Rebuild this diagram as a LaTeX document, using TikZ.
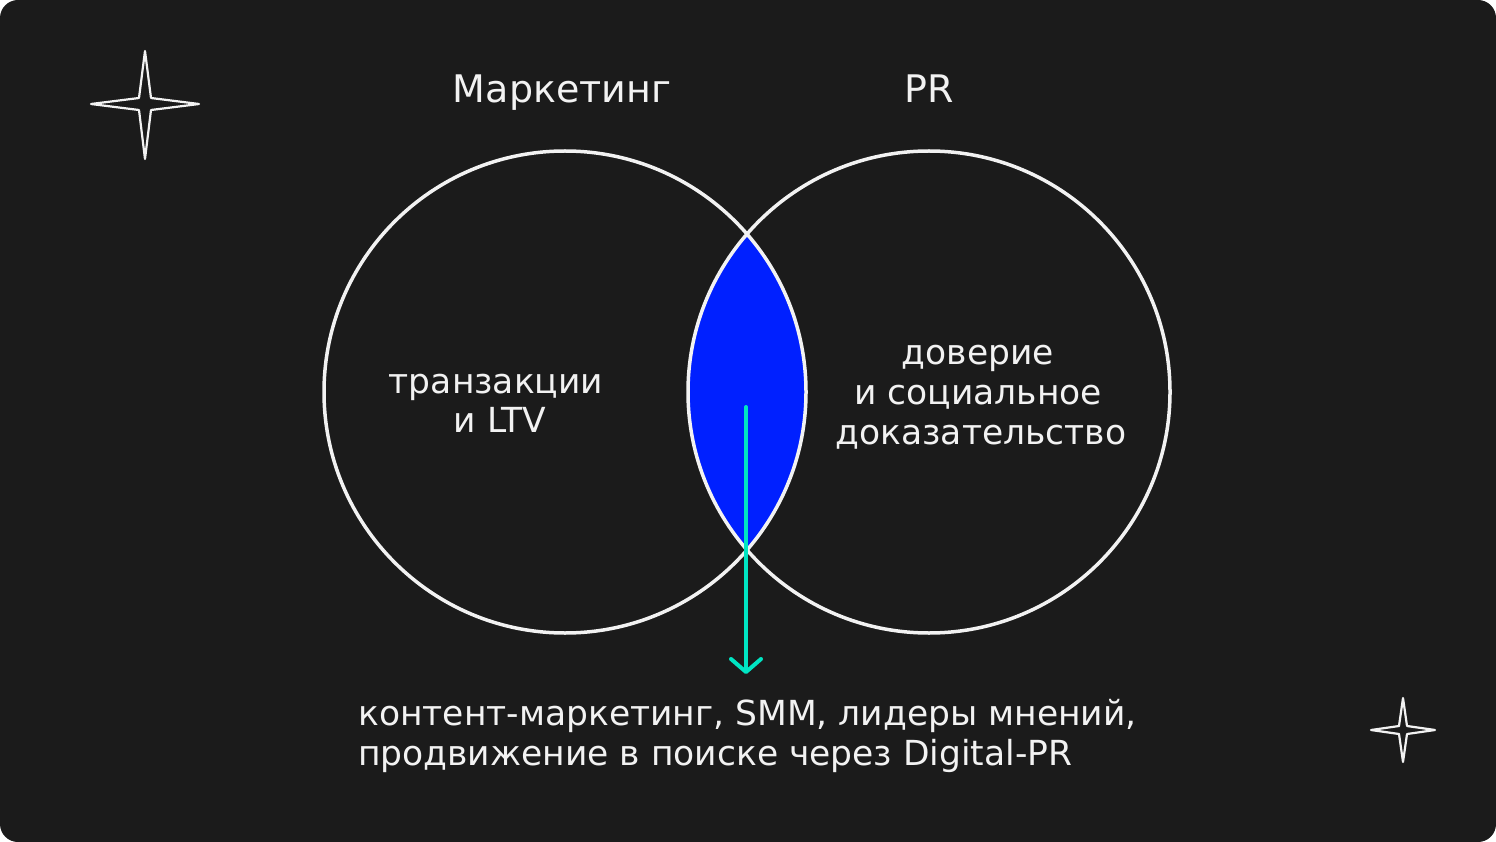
\documentclass[tikz,border=0pt]{standalone}
\usepackage{fontspec}
\setmainfont{DejaVu Sans}
\usetikzlibrary{arrows.meta}
\definecolor{bgdark}{HTML}{1B1B1B}
\definecolor{lensblue}{HTML}{0020FF}
\definecolor{teal}{HTML}{00E5C3}
\definecolor{txt}{HTML}{F2F2F2}
\tikzset{
  ring/.style={draw=txt, line width=3.5pt},
  title/.style={text=txt, font=\fontsize{38}{44}\selectfont, anchor=base, inner sep=0pt},
  body/.style={text=txt, font=\fontsize{34.5}{40}\selectfont, anchor=base, inner sep=0pt},
  sparkle/.style={draw=txt, line width=2.2pt, line join=round},
  pointer/.style={draw=teal, line width=4pt, line cap=round, -{Straight Barb[length=13pt,width=30pt,line width=4pt,round]}}
}
\begin{document}
\begin{tikzpicture}[x=1pt,y=-1pt]
\useasboundingbox (0,0) rectangle (1496,842);
\fill[white] (0,0) rectangle (1496,842);
\fill[bgdark, rounded corners=18pt] (0,0) rectangle (1496,842);
% lens
\begin{scope}
  \clip (565,392) circle[radius=241];
  \fill[lensblue] (929,392) circle[radius=241];
\end{scope}
\node[circle, ring, minimum size=482pt, inner sep=0pt] (mk) at (565,392) {};
\node[circle, ring, minimum size=482pt, inner sep=0pt] (pr) at (929,392) {};
% titles
\node[title] (t1) at (562,103) {Маркетинг};
\node[title] (t2) at (929,103) {PR};
% left text
\node[body] (l1) at (496,393) {транзакции};
\node[body] (l2) at (500,432) {и LTV};
% right text
\node[body] (r1) at (978,364) {доверие};
\node[body] (r2) at (978,404) {и социальное};
\node[body] (r3) at (981,444) {доказательство};
% arrow
\coordinate (a0) at (746,407);
\coordinate (a1) at (746,674);
\draw[pointer] (a0) -- (a1);
% bottom text
\node[body, anchor=base west] (b1) at (358,725) {контент-маркетинг, SMM, лидеры мнений,};
\node[body, anchor=base west] (b2) at (358,765) {продвижение в поиске через Digital-PR};
% stars
\draw[sparkle] (145,51) -- (151,98) -- (199,104) -- (151,110) -- (145,159) -- (139,110) -- (91,104) -- (139,98) -- cycle;
\draw[sparkle] (1403,698) -- (1407,726) -- (1435,730) -- (1407,734) -- (1403,762) -- (1399,734) -- (1371,730) -- (1399,726) -- cycle;
\end{tikzpicture}
\end{document}
